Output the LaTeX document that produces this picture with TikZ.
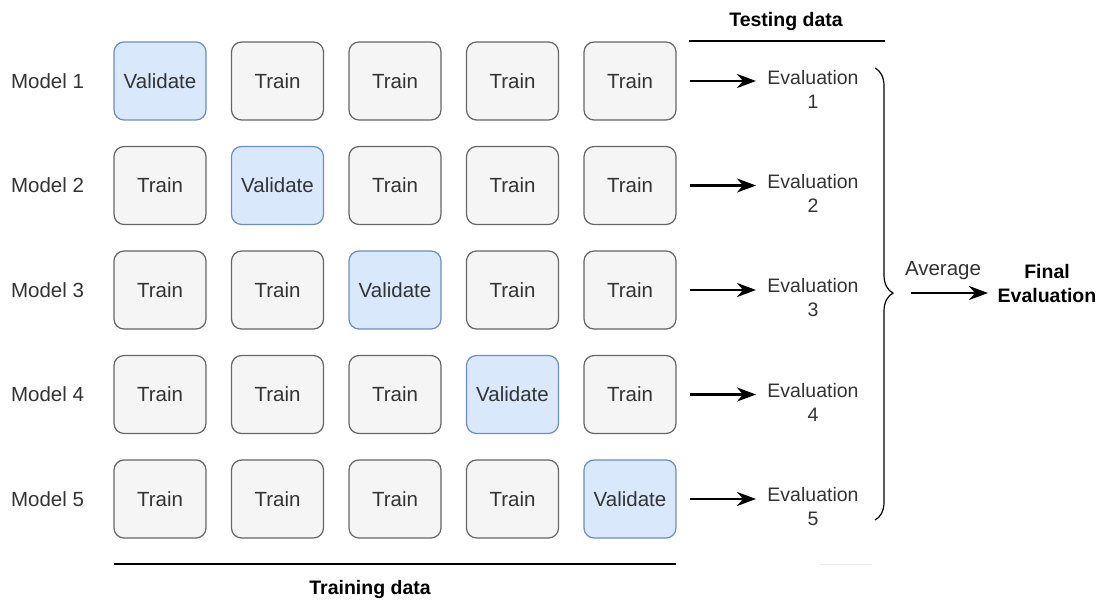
\documentclass[tikz,border=0pt]{standalone}
\usepackage{fontspec}
\setmainfont{Liberation Sans}
\usetikzlibrary{arrows.meta,decorations.pathreplacing}
\definecolor{trainfill}{HTML}{F5F5F5}
\definecolor{trainline}{HTML}{666666}
\definecolor{valfill}{HTML}{DAE8FC}
\definecolor{valline}{HTML}{6C8EBF}
\definecolor{txt}{HTML}{333333}
\tikzset{
  fold/.style={draw=trainline, fill=trainfill, line width=1.2pt, rounded corners=10pt,
    minimum width=92pt, minimum height=78pt, inner sep=0pt, text=txt,
    font=\fontsize{20.5}{24}\selectfont},
  trainbox/.style={fold},
  valbox/.style={fold, draw=valline, fill=valfill},
  lbl/.style={text=txt, inner sep=0pt, font=\fontsize{20.5}{24}\selectfont, align=center},
  evl/.style={lbl, font=\fontsize{19.5}{24}\selectfont},
  head/.style={text=black, inner sep=0pt, font=\fontsize{19.5}{24}\selectfont\bfseries, align=center},
  arrowline/.style={draw=black, line width=2.6pt, -{Stealth[length=19pt,width=14pt,inset=6pt]}},
  rule/.style={line width=1.3pt}
}
\begin{document}
\begin{tikzpicture}[x=1pt,y=-1pt]
\useasboundingbox (0,0) rectangle (1099,599);
% folds: one row per model, the validation fold walks along the diagonal
\foreach \r in {1,...,5} {
  \node[lbl] (m\r) at (47.5, {81+104.5*(\r-1)}) {Model \r};
  \foreach \c in {1,...,5} {
    \ifnum\c=\r
      \node[valbox] (b\r\c) at ({160+117.5*(\c-1)}, {81+104.5*(\r-1)}) {Validate};
    \else
      \node[trainbox] (b\r\c) at ({160+117.5*(\c-1)}, {81+104.5*(\r-1)}) {Train};
    \fi
  }
  \node[evl] (e\r) at (813, {89+104.5*(\r-1)}) {Evaluation\\\r};
  \coordinate (s\r) at (690, {81+104.5*(\r-1)});
  \coordinate (t\r) at (756, {81+104.5*(\r-1)});
  \path[arrowline] (s\r) -- (t\r);
}
% data split headings
\node[head] (test) at (786, 22) {Testing data};
\coordinate (tl) at (689, 41);
\coordinate (tr) at (885, 41);
\draw[rule] (tl) -- (tr);
\coordinate (rl) at (114, 564);
\coordinate (rr) at (676, 564);
\draw[line width=1.5pt] (rl) -- (rr);
\node[head] (train) at (370, 589) {Training data};
\coordinate (fl) at (820, 564);
\coordinate (fr) at (872, 564);
\draw[black!8, line width=1pt] (fl) -- (fr);
% averaging
\coordinate (bt) at (875, 68);
\coordinate (bb) at (875, 520);
\draw[line width=1.2pt, decorate, decoration={brace, amplitude=18pt, aspect=0.498}] (bt) -- (bb);
\node[lbl] (avg) at (943, 271) {Average};
\coordinate (as) at (911, 293);
\coordinate (at) at (988, 293);
\path[arrowline] (as) -- (at);
\node[head] (final) at (1047, 284) {Final\\Evaluation};
\end{tikzpicture}
\end{document}
